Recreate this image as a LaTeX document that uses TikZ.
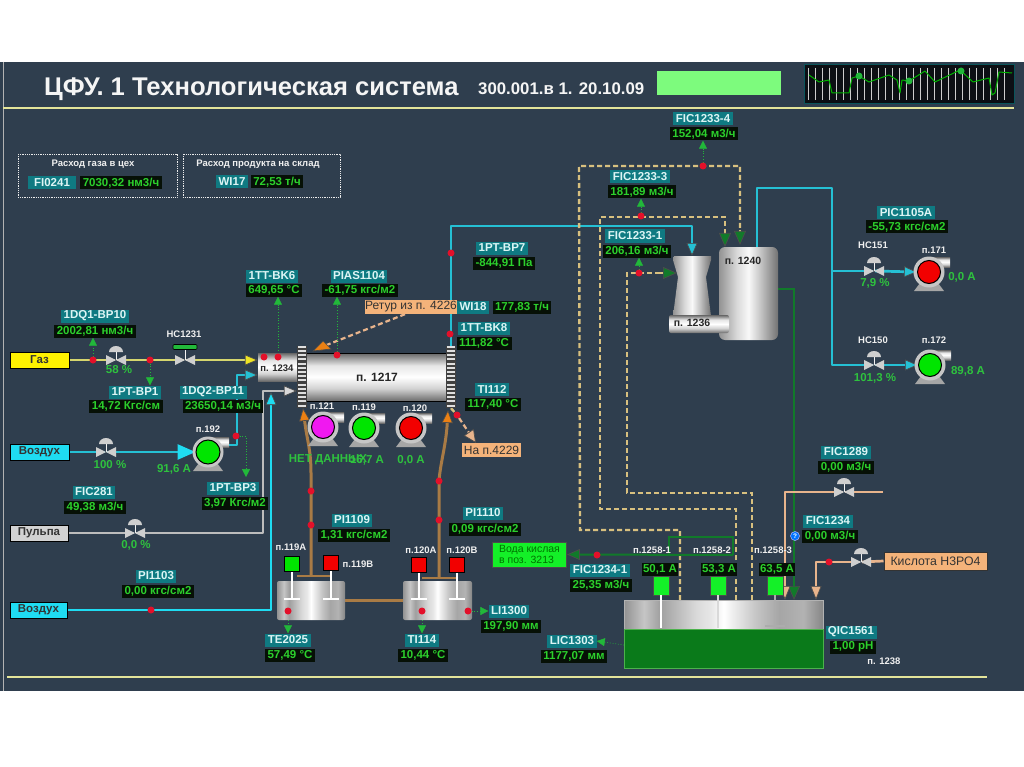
\documentclass[tikz,border=0pt]{standalone}
\usepackage{fontspec}
\setmainfont{Liberation Sans}
\usetikzlibrary{arrows.meta,backgrounds}
\definecolor{panelc}{HTML}{2F3E4E}
\definecolor{linec}{HTML}{E4E49A}
\definecolor{tagc}{HTML}{0F7A82}
\definecolor{tagt}{HTML}{DDF5F5}
\definecolor{valb}{HTML}{061006}
\definecolor{valt}{HTML}{2CD02C}
\definecolor{txtg}{HTML}{2EC23E}
\definecolor{reddot}{HTML}{E3102A}
\definecolor{gaspipe}{HTML}{D6D66E}
\definecolor{cyanp}{HTML}{25C0D4}
\definecolor{cyanb}{HTML}{1FDCF2}
\definecolor{grayp}{HTML}{BDBDBD}
\definecolor{brownp}{HTML}{A97B45}
\definecolor{tanp}{HTML}{E8B48C}
\definecolor{wheatp}{HTML}{D8C07F}
\definecolor{dkgreen}{HTML}{117A2A}
\definecolor{orangeb}{HTML}{F4B37A}
\definecolor{brightg}{HTML}{14F028}
\definecolor{sigg}{HTML}{22B83A}
\definecolor{valveg}{HTML}{CFCFCF}
\definecolor{liquid}{HTML}{0A7A1A}
\definecolor{statc}{HTML}{7DFB7D}
\definecolor{magp}{HTML}{F018F0}
\pgfdeclarehorizontalshading{tankh}{100bp}{color(0bp)=(gray!70!black); color(25bp)=(gray!85); color(40bp)=(gray!30); color(50bp)=(white!95!gray); color(60bp)=(gray!45); color(75bp)=(gray!90!black); color(100bp)=(gray)}
\pgfdeclarehorizontalshading{stripes}{100bp}{color(0bp)=(gray); color(25bp)=(gray!85); color(30bp)=(gray!45); color(34bp)=(gray!75); color(38bp)=(gray!55); color(43bp)=(gray!30); color(47bp)=(gray!18); color(50bp)=(white); color(52bp)=(gray!12); color(58bp)=(gray!45); color(64bp)=(gray!70); color(70bp)=(gray!60); color(75bp)=(gray!95); color(100bp)=(gray)}
\pgfdeclareverticalshading{tubev}{100bp}{color(0bp)=(gray!90!black); color(25bp)=(gray!85!black); color(38bp)=(gray!35); color(50bp)=(white); color(62bp)=(gray!20); color(75bp)=(gray!80!black); color(100bp)=(gray)}
\tikzset{
 x=1pt,y=-1pt,
 tagl/.style={fill=tagc,text=tagt,font=\bfseries\fontsize{11.5}{13}\selectfont,inner xsep=2.5pt,inner ysep=1pt,minimum height=13pt},
 tagv/.style={fill=valb,text=valt,font=\bfseries\fontsize{11.5}{13}\selectfont,inner xsep=2.5pt,inner ysep=1pt,minimum height=13pt},
 smalltx/.style={text=white!88!gray,font=\bfseries\fontsize{9.5}{11}\selectfont,inner sep=0pt},
 greent/.style={text=txtg,font=\bfseries\fontsize{11.5}{13}\selectfont,inner sep=0pt},
 srcbox/.style={draw=black,line width=1pt,font=\bfseries\fontsize{11.5}{13}\selectfont,minimum height=16pt,inner sep=0pt,text=black!80},
 rdot/.style={circle,fill=reddot,minimum size=7pt,inner sep=0pt},
 pipe/.style={line width=2.7pt,line join=round},
 dash1/.style={wheatp,line width=2.4pt,dash pattern=on 5pt off 3pt},
 sigd/.style={sigg,line width=.7pt,dotted,-{Triangle[length=8pt,width=8pt,fill=sigg,color=sigg,line width=.5pt,sep=0pt]}},
 bigtip/.style={-{Triangle[length=13pt,width=11pt,fill=#1,color=black!70,line width=.7pt]}},
 gbox/.style={draw=white!85!gray,line width=.8pt,densely dotted},
}
\newcommand\itag[7]{%
 \node[tagl] (#1l) at (#2,#3) {#4};
 \node[tagv] (#1v) at (#5,#6) {#7};}
\newcommand\valvehere[3]{%
 \node[inner sep=0pt,minimum size=2pt] (#1) at (#2,#3) {};
 \draw[white!90!gray,line width=1pt] (#2,#3) -- (#2,#3-8);
 \fill[valveg] (#2-10,#3-5) -- (#2,#3) -- (#2-10,#3+5) -- cycle;
 \fill[valveg] (#2+10,#3-5) -- (#2,#3) -- (#2+10,#3+5) -- cycle;}
\newcommand\domehere[2]{%
 \fill[valveg] (#1-7,#2-8) arc[start angle=180,end angle=360,x radius=7,y radius=6] -- cycle;}
\newcommand\pumphere[5]{% name,x,y,colour,size
 \fill[gray!70] (#2-9,#3+11) -- (#2+9,#3+11) -- (#2+15,#3+19) -- (#2-15,#3+19) -- cycle;
 \shade[shading=tubev] (#2,#3-15) rectangle (#2+21,#3-5);
 \fill[gray!45] (#2,#3) circle[radius=15.5];
 \node[circle,draw=black,line width=1pt,fill=#4,minimum size=#5pt,inner sep=0pt] (#1) at (#2,#3) {};}
\begin{document}
\begin{tikzpicture}
\useasboundingbox (0,0) rectangle (1024,767);
% ---------- panel (drawn on the background layer below)
\draw[gray!60,line width=1pt] (3,62) -- (3,691);
\draw[linec,line width=1.6pt] (3,108) -- (1014,108);
\draw[linec,line width=1.6pt] (7,677) -- (987,677);
\node[anchor=west,inner sep=0pt,text=white!92!gray,font=\bfseries\fontsize{25.6}{28}\selectfont] (ttl) at (44,89) {ЦФУ. 1 Технологическая система};
\node[anchor=west,inner sep=0pt,text=white!92!gray,font=\bfseries\fontsize{16.8}{19}\selectfont] (ver) at (478,89) {300.001.в 1. 20.10.09};
\node[fill=statc,minimum width=124pt,minimum height=24pt,inner sep=0pt] (stat) at (719,83) {};
% ---------- trend
\draw[tagc!70!black,fill=black!75!panelc,line width=1pt] (804,65) rectangle (1014,104);
\foreach \gx in {808,815,...,1010} \draw[gray!40,line width=.25pt] (\gx,68) -- (\gx,100);
\draw[green!70!black,line width=1pt,line join=round] (809,75) -- (819,82) -- (829,80) -- (832,93) -- (849,93) -- (852,78) -- (859,76) -- (869,82) -- (889,75) -- (897,80) -- (900,93) -- (902,80) -- (909,81) -- (925,71) -- (935,82) -- (960,70) -- (973,82) -- (989,78) -- (992,95) -- (995,93) -- (999,72) -- (1012,73);
\fill[sigg] (859,76) circle[radius=3.5] (909,81) circle[radius=3.5] (961,71) circle[radius=3.5];
% ---------- top-left boxes
\draw[gbox] (18,154) rectangle (177,197);
\draw[gbox] (183,154) rectangle (340,197);
\node[smalltx] (g1) at (93,164) {Расход газа в цех};
\node[smalltx] (g2) at (258,164) {Расход продукта на склад};
\node[tagl,minimum width=48pt] (fi0241l) at (52,183) {FI0241};
\node[tagv] (fi0241v) at (121,183) {7030,32 нм3/ч};
\node[tagl] (wi17l) at (232,182) {WI17};
\node[tagv] (wi17v) at (277,182) {72,53 т/ч};
% ---------- source boxes
\node[srcbox,fill=yellow,minimum width=59pt] (gas) at (39.5,360) {Газ};
\node[srcbox,fill=cyanb,minimum width=59pt] (air1) at (39.5,452) {Воздух};
\node[srcbox,fill=gray!35,minimum width=58pt] (pulp) at (39,533) {Пульпа};
\node[srcbox,fill=cyanb,minimum width=57pt] (air2) at (38.5,610) {Воздух};
% ---------- reactor
\node[shading=tubev,minimum width=40pt,minimum height=28pt,inner sep=0pt] (r1234) at (278,367) {};
\node[inner sep=0pt,text=black!85,font=\bfseries\fontsize{9.5}{11}\selectfont] (r1234t) at (277,368) {п. 1234};
\node[shading=tubev,draw=black,line width=.8pt,minimum width=141pt,minimum height=48pt,inner sep=0pt,text=black!85,font=\bfseries\fontsize{12}{14}\selectfont] (tube) at (377,377) {п. 1217};
\node[fill=black!75,minimum width=10pt,minimum height=62pt,inner sep=0pt] (fl) at (302,377) {};
\node[fill=black!75,minimum width=10pt,minimum height=62pt,inner sep=0pt] (fr) at (451,377) {};
\draw[gray!25,line width=8pt,dash pattern=on 2pt off 2.2pt] (fl.north) -- (fl.south);
\draw[gray!25,line width=8pt,dash pattern=on 2pt off 2.2pt] (fr.north) -- (fr.south);
% ---------- pumps
\pumphere{p192}{208}{452}{green!90!black}{24}
\pumphere{p121}{323}{427}{magp}{23}
\pumphere{p119}{364}{428}{green!90!black}{23}
\pumphere{p120}{411}{428}{red!95!black}{23}
\pumphere{p171}{929}{272}{red!95!black}{23}
\pumphere{p172}{930}{365}{green!90!black}{23}
\node[smalltx] (l192) at (208,429) {п.192};
\node[smalltx] (l121) at (322,406) {п.121};
\node[smalltx] (l119) at (364,407) {п.119};
\node[smalltx] (l120) at (415,408) {п.120};
\node[smalltx] (l171) at (934,250) {п.171};
\node[smalltx] (l172) at (934,340) {п.172};
\node[greent] (a192) at (174,469) {91,6 А};
\node[greent] (a121) at (328,460) {НЕТ ДАННЫХ};
\node[greent] (a119) at (367,460) {16,7 А};
\node[greent] (a120) at (411,460) {0,0 А};
\node[greent] (a171) at (962,277) {0,0 А};
\node[greent] (a172) at (968,371) {89,8 А};
% ---------- valves
\valvehere{v58}{116}{360}\domehere{116}{360}
\valvehere{v1231}{185}{360}
\draw[white!90!gray,line width=1pt] (185,360) -- (185,347);
\node[fill=sigg,draw=black,line width=.6pt,minimum width=24pt,minimum height=5pt,inner sep=0pt,rounded corners=1pt] (hc1231bar) at (185,347) {};
\valvehere{v100}{106}{452}\domehere{106}{452}
\valvehere{v0}{135}{533}\domehere{135}{533}
\valvehere{v151}{874}{271}\domehere{874}{271}
\valvehere{v150}{874}{365}\domehere{874}{365}
\valvehere{v1289}{844}{492}\domehere{844}{492}
\valvehere{vacid}{861}{562}\domehere{861}{562}
\node[greent] (t58) at (119,370) {58 \%};
\node[greent] (t100) at (110,465) {100 \%};
\node[greent] (t00) at (136,545) {0,0 \%};
\node[greent] (t79) at (875,283) {7,9 \%};
\node[greent] (t101) at (875,378) {101,3 \%};
\node[smalltx] (hc1231) at (184,334) {HC1231};
\node[smalltx] (hc151) at (873,245) {HC151};
\node[smalltx] (hc150) at (873,340) {HC150};
% ---------- tanks 119/120
\node[shading=stripes,minimum width=68pt,minimum height=39pt,inner sep=0pt,rounded corners=2pt] (ta) at (311,600.5) {};
\node[shading=stripes,minimum width=69pt,minimum height=39pt,inner sep=0pt,rounded corners=2pt] (tb) at (437.5,600.5) {};
\node[fill=green!90!black,draw=black,line width=.8pt,minimum size=15pt,inner sep=0pt] (m119a) at (292,564) {};
\node[fill=red!95!black,draw=black,line width=.8pt,minimum size=15pt,inner sep=0pt] (m119b) at (331,563) {};
\node[fill=red!95!black,draw=black,line width=.8pt,minimum size=15pt,inner sep=0pt] (m120a) at (419,565) {};
\node[fill=red!95!black,draw=black,line width=.8pt,minimum size=15pt,inner sep=0pt] (m120b) at (457,565) {};
\foreach \mm/\mx in {m119a/292,m119b/331,m120a/419,m120b/457}{
 \draw[white,line width=1.3pt] (\mm.south) -- (\mx,599);
 \draw[white,line width=1.3pt] (\mx-8,599) -- (\mx+8,599);}
\node[smalltx] (l119a) at (291,547) {п.119А};
\node[smalltx] (l119b) at (358,564) {п.119В};
\node[smalltx] (l120a) at (421,550) {п.120А};
\node[smalltx] (l120b) at (462,550) {п.120В};
% ---------- big tank 1238
\node[shading=stripes,minimum width=199pt,minimum height=29pt,inner sep=0pt,anchor=north west] (t1238) at (624,600) {};
\node[fill=liquid,draw=green!40!gray,line width=.8pt,minimum width=199pt,minimum height=39pt,inner sep=0pt,anchor=north west] (liq) at (624,629) {};
\draw[gray!60,line width=.8pt] (t1238.south west) -- (t1238.north west) -- (t1238.north east) -- (t1238.south east);
\node[smalltx] (n1258a) at (652,550) {п.1258-1};
\node[smalltx] (n1258b) at (712,550) {п.1258-2};
\node[smalltx] (n1258c) at (773,550) {п.1258-3};
\node[tagv,inner xsep=1.5pt] (m1v) at (660,569) {50,1 А};
\node[tagv,inner xsep=1.5pt] (m2v) at (719,569) {53,3 А};
\node[tagv,inner xsep=1.5pt] (m3v) at (777,569) {63,5 А};
\node[fill=brightg,draw=black!70,line width=.8pt,minimum width=16pt,minimum height=19pt,inner sep=0pt] (m1) at (661,585.5) {};
\node[fill=brightg,draw=black!70,line width=.8pt,minimum width=16pt,minimum height=19pt,inner sep=0pt] (m2) at (718,585.5) {};
\node[fill=brightg,draw=black!70,line width=.8pt,minimum width=16pt,minimum height=19pt,inner sep=0pt] (m3) at (775,585.5) {};
\draw[white,line width=1.2pt] (m1.south) -- (661,628);
\draw[gray!30,line width=1.2pt] (m2.south) -- (718,628);
\draw[gray!65,line width=1.2pt] (m3.south) -- (775,626);
\draw[gray!65,line width=2pt] (765,626) -- (785,626);
\node[smalltx] (n1238) at (884,661) {п. 1238};
% ---------- tower / tank 1240
\node[shading=tankh,minimum width=59pt,minimum height=93pt,inner sep=0pt,rounded corners=6pt] (t1240) at (748.5,293.5) {};
\node[inner sep=0pt,text=black!85,font=\bfseries\fontsize{10.5}{12}\selectfont] (t1240t) at (743,261) {п. 1240};
\shade[shading=tankh] (674,256) -- (711,256) -- (711,260) -- (706,277) -- (711,316) -- (673,316) -- (678,277) -- (673,260) -- cycle;
\node[shading=tubev,minimum width=60pt,minimum height=18pt,inner sep=0pt,rounded corners=2pt] (t1236) at (699,324) {};
\node[inner sep=0pt,text=black!85,font=\bfseries\fontsize{10.5}{12}\selectfont] (t1236t) at (692,323) {п. 1236};
\coordinate (towertop) at (692,256);
\coordinate (towerside) at (677,273);
% ---------- label boxes
\node[fill=orangeb,inner xsep=0pt,inner ysep=1pt,minimum height=14pt,minimum width=92pt,text=black!80,font=\fontsize{12}{13}\selectfont] (ret) at (411,307) {Ретур из п. 4226};
\node[fill=orangeb,inner xsep=1pt,inner ysep=1pt,minimum height=14pt,minimum width=59pt,text=black!80,font=\fontsize{12}{13}\selectfont] (na) at (491.5,450) {На п.4229};
\node[fill=brightg,draw=black!70,line width=.8pt,minimum width=74pt,minimum height=25pt,inner sep=0pt,align=left,text=green!45!black,font=\fontsize{10.5}{11}\selectfont] (voda) at (529.5,554.5) {Вода кислая\\в поз. 3213};
\node[fill=orangeb,draw=black!80,line width=1pt,minimum width=103pt,minimum height=18pt,inner sep=0pt,text=black!80,font=\fontsize{12.3}{14}\selectfont] (acid) at (935.5,561) {Кислота Н3РО4};
% ---------- instrument tags
\itag{dqa}{95}{316}{1DQ1-BP10}{95}{331}{2002,81 нм3/ч}
\itag{tt6}{272}{276}{1TT-BK6}{274}{290}{649,65 °C}
\itag{pias}{359}{276}{PIAS1104}{360}{290}{-61,75 кгс/м2}
\itag{pt7}{502}{248}{1PT-BP7}{504}{263}{-844,91 Па}
\itag{wi18}{473}{307}{WI18}{522}{307}{177,83 т/ч}
\itag{tt8}{484}{328}{1TT-BK8}{484}{343}{111,82 °C}
\itag{ti112}{492}{389}{TI112}{493}{404}{117,40 °C}
\itag{pt1}{135}{392}{1PT-BP1}{126}{406}{14,72 Кгс/см}
\itag{dqb}{213}{392}{1DQ2-BP11}{223}{406}{23650,14 м3/ч}
\itag{pt3}{233}{488}{1PT-BP3}{235}{503}{3,97 Кгс/м2}
\itag{fic281}{94}{492}{FIC281}{95}{507}{49,38 м3/ч}
\itag{pi1103}{156}{576}{PI1103}{158}{591}{0,00 кгс/см2}
\itag{pi1109}{352}{520}{PI1109}{354}{535}{1,31 кгс/см2}
\itag{pi1110}{483}{513}{PI1110}{485}{529}{0,09 кгс/см2}
\itag{te}{288}{640}{TE2025}{290}{655}{57,49 °C}
\itag{ti114}{422}{640}{TI114}{423}{655}{10,44 °C}
\itag{li}{509}{611}{LI1300}{511}{626}{197,90 мм}
\itag{lic}{572}{641}{LIC1303}{574}{656}{1177,07 мм}
\itag{fica}{600}{570}{FIC1234-1}{601}{585}{25,35 м3/ч}
\itag{qic}{851}{632}{QIC1561}{853}{647}{1,00 pH}
\itag{ficb}{828}{521}{FIC1234}{830}{536}{0,00 м3/ч}
\itag{ficc}{846}{452}{FIC1289}{846}{467}{0,00 м3/ч}
\itag{fd}{703}{119}{FIC1233-4}{704}{134}{152,04 м3/ч}
\itag{fe}{640}{177}{FIC1233-3}{642}{192}{181,89 м3/ч}
\itag{ff}{635}{236}{FIC1233-1}{637}{251}{206,16 м3/ч}
\itag{pic}{906}{213}{PIC1105A}{907}{227}{-55,73 кгс/см2}
% ---------- dots
\foreach \dotn/\dx/\dy in {da/93/360,db/150/360,dc/236/436,dd/151/610,de/264/357,df/278/357,dg/337/355,dh/451/253,di/450/334,dj/457/415,dk/311/491,dl/311/525,dm/439/481,dn/439/520,dp/288/611,dq/422/611,dr/468/611,ds/703/166,dt/641/216,du/639/273,dv/597/555,dw/829/562}
 \node[rdot] (\dotn) at (\dx,\dy) {};
\node[circle,fill=blue!55!cyan,draw=white!70!blue,line width=.5pt,minimum size=9pt,inner sep=0pt,text=white,font=\bfseries\fontsize{6.5}{7}\selectfont] (ball) at (795,536) {?};
\fill[orange!70!brown,draw=black!70,line width=.7pt] (323,341) -- (313,351) -- (331,349) -- cycle;
% ---------- connectors and panel, under everything
\begin{scope}[on background layer]
\fill[white] (0,0) rectangle (1024,767);
\fill[panelc] (0,62) rectangle (1024,691);
\draw[gaspipe,pipe] (gas.east) -- (v58);
\draw[gaspipe,pipe] (v58) -- (v1231);
\draw[gaspipe,pipe,bigtip=yellow!85!gray] (v1231) -- (r1234.west |- v1231);
\draw[cyanp,pipe] (air1.east) -- (v100);
\draw[cyanp,pipe,-{Triangle[length=18pt,width=15pt,fill=cyanb,color=cyanb]}] (v100) -- (p192.west);
\draw[cyanp,pipe,bigtip=cyanp] (229,445) -- (237,445) -- (237,375) -- (r1234.west |- 0,375);
\draw[grayp,pipe] (pulp.east) -- (v0);
\draw[grayp,pipe,bigtip=gray!30] (v0) -- (263,533) -- (263,391) -- (fl.west |- 0,391);
\draw[cyanb,pipe,bigtip=cyanb] (air2.east) -- (271,610) -- (271,392);
\draw[cyanp,pipe,bigtip=cyanp] (fr.north) -- (451,226) -- (692,226) -- (towertop);
\draw[cyanp,pipe] (757,247) -- (757,188) -- (832,188) -- (832,270);
\draw[cyanp,pipe] (832,270) -- (832,365) -- (v150);
\draw[cyanp,pipe] (832,271) -- (v151);
\draw[cyanp,pipe,bigtip=cyanp] (v151) -- (p171.west);
\draw[cyanp,pipe,bigtip=cyanp] (v150) -- (p172.west);
\draw[brownp,line width=3pt,-{Triangle[length=13pt,width=11pt,fill=orange!70!brown,color=black!70,line width=.7pt]}] (311,576) -- (311,473) .. controls (311,450) and (307,440) .. (303,408);
\draw[brownp,line width=3pt,-{Triangle[length=13pt,width=11pt,fill=orange!70!brown,color=black!70,line width=.7pt]}] (439,578) -- (439,480) .. controls (441,460) and (446,445) .. (448,410);
\draw[brownp,pipe] (297,576) -- (331,576);
\draw[brownp,pipe] (422,578) -- (458,578);
\draw[brownp,line width=3pt] (ta.east) -- (tb.west);
\draw[tanp,line width=2.2pt,dash pattern=on 5pt off 3pt] (ret.south) ++(-6,0) -- (324,346);
\draw[tanp,line width=2.2pt,dash pattern=on 5pt off 3pt,-{Triangle[length=13pt,width=12pt,fill=tanp,color=black!70,line width=.7pt]}] (dj) -- (476,443);
\draw[dash1] (fr.south) -- (dj);
\draw[dash1] (680,600) -- (680,530) -- (580,530) -- (579,166) -- (740,166) -- (740,232);
\draw[dash1] (736,600) -- (736,509) -- (600,509) -- (600,217) -- (725,217) -- (725,234);
\draw[dash1] (752,600) -- (752,493) -- (627,493) -- (627,273) -- (662,273);
\draw[wheatp,line width=2pt,-{Triangle[length=14pt,width=12pt,fill=dkgreen,color=black!70,line width=.7pt]}] (660,273) -- (towerside);
\draw[wheatp,line width=2pt,-{Triangle[length=14pt,width=12pt,fill=dkgreen,color=black!70,line width=.7pt]}] (725,232) -- (725,247);
\draw[wheatp,line width=2pt,-{Triangle[length=14pt,width=12pt,fill=dkgreen,color=black!70,line width=.7pt]}] (740,230) -- (740,245);
\draw[dkgreen,line width=2pt,-{Triangle[length=14pt,width=12pt,fill=dkgreen,color=black!70,line width=.7pt]}] (t1240.east |- 0,289) -- (794,289) -- (794,600);
\draw[dkgreen,line width=2pt,-{Triangle[length=13pt,width=11pt,fill=dkgreen,color=black!70,line width=.7pt]}] (733,555) -- (voda.east);
\draw[dkgreen,line width=2pt] (669,555) -- (669,537) -- (733,537) -- (733,555);
\draw[tanp,pipe] (acid.west) -- (vacid);
\draw[tanp,pipe,-{Triangle[length=14pt,width=11pt,fill=tanp,color=black!70,line width=.7pt]}] (vacid) -- (816,562) -- (816,600);
\draw[tanp,pipe] (883,492) -- (v1289);
\draw[tanp,pipe,-{Triangle[length=14pt,width=11pt,fill=tanp,color=black!70,line width=.7pt]}] (v1289) -- (785,492) -- (785,600);
\draw[sigd] (da) -- (da |- dqav.south);
\draw[sigd] (db) -- (db |- pt1l.north);
\draw[sigd] (df) -- (df |- tt6v.south);
\draw[sigd] (dg) -- (dg |- piasv.south);
\draw[sigd] (dc) -- (246,436) -- (246,477);
\draw[sigd] (ds) -- (ds |- fdv.south);
\draw[sigd] (dt) -- (dt |- fev.south);
\draw[sigd] (du) -- (du |- ffv.south);
\draw[sigd] (dp) -- (dp |- tel.north);
\draw[sigd] (dq) -- (dq |- ti114l.north);
\draw[sigd] (dr) -- (lil.west);
\draw[sigd] (liq.west |- 0,645) -- (licl.east);
\end{scope}
\end{tikzpicture}
\end{document}
